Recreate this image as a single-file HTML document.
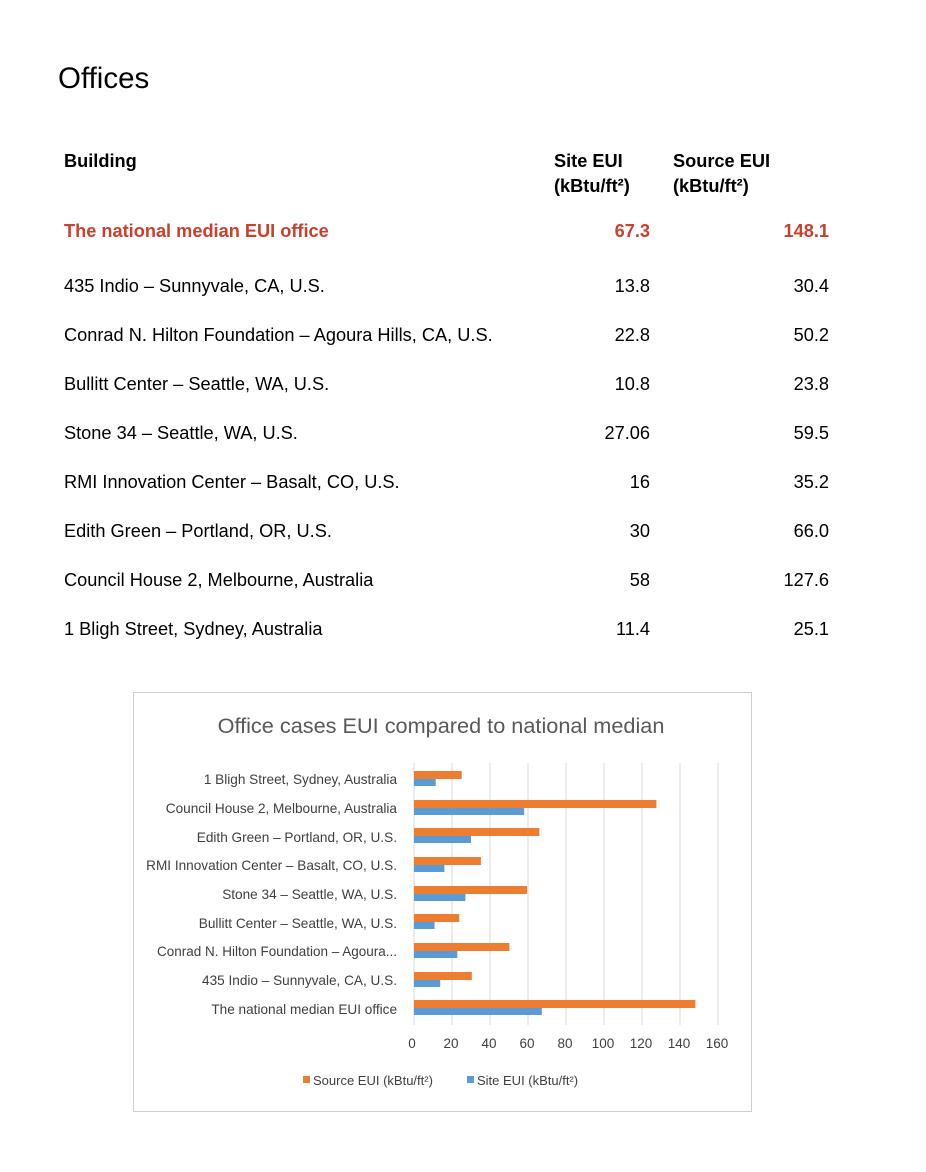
<!DOCTYPE html>
<html><head><meta charset="utf-8"><style>
body{margin:0;width:926px;height:1172px;background:#fff;font-family:"Liberation Sans",Arial,sans-serif;position:relative;overflow:hidden}
.t{position:absolute;white-space:nowrap;font-size:18.2px;color:#000;line-height:22px}
.r{text-align:right}
.b{font-weight:bold}
.red{color:#c9402c;font-weight:bold}
</style></head><body>
<div class="t" style="left:58px;top:61px;font-size:29.5px;line-height:36px">Offices</div>
<div class="t b" style="left:64px;top:150px">Building</div>
<div class="t b" style="left:554px;top:150px">Site EUI<br><span style="display:block;margin-top:3px">(kBtu/ft²)</span></div>
<div class="t b" style="left:673px;top:150px">Source EUI<br><span style="display:block;margin-top:3px">(kBtu/ft²)</span></div>

<div class="t red" style="left:64px;top:220px">The national median EUI office</div>
<div class="t red r" style="left:550px;width:100px;top:220px">67.3</div>
<div class="t red r" style="left:729px;width:100px;top:220px">148.1</div>

<div class="t" style="left:64px;top:275px">435 Indio – Sunnyvale, CA, U.S.</div>
<div class="t r" style="left:550px;width:100px;top:275px">13.8</div>
<div class="t r" style="left:729px;width:100px;top:275px">30.4</div>

<div class="t" style="left:64px;top:324px">Conrad N. Hilton Foundation – Agoura Hills, CA, U.S.</div>
<div class="t r" style="left:550px;width:100px;top:324px">22.8</div>
<div class="t r" style="left:729px;width:100px;top:324px">50.2</div>

<div class="t" style="left:64px;top:373px">Bullitt Center – Seattle, WA, U.S.</div>
<div class="t r" style="left:550px;width:100px;top:373px">10.8</div>
<div class="t r" style="left:729px;width:100px;top:373px">23.8</div>

<div class="t" style="left:64px;top:422px">Stone 34 – Seattle, WA, U.S.</div>
<div class="t r" style="left:550px;width:100px;top:422px">27.06</div>
<div class="t r" style="left:729px;width:100px;top:422px">59.5</div>

<div class="t" style="left:64px;top:471px">RMI Innovation Center – Basalt, CO, U.S.</div>
<div class="t r" style="left:550px;width:100px;top:471px">16</div>
<div class="t r" style="left:729px;width:100px;top:471px">35.2</div>

<div class="t" style="left:64px;top:520px">Edith Green – Portland, OR, U.S.</div>
<div class="t r" style="left:550px;width:100px;top:520px">30</div>
<div class="t r" style="left:729px;width:100px;top:520px">66.0</div>

<div class="t" style="left:64px;top:569px">Council House 2, Melbourne, Australia</div>
<div class="t r" style="left:550px;width:100px;top:569px">58</div>
<div class="t r" style="left:729px;width:100px;top:569px">127.6</div>

<div class="t" style="left:64px;top:618px">1 Bligh Street, Sydney, Australia</div>
<div class="t r" style="left:550px;width:100px;top:618px">11.4</div>
<div class="t r" style="left:729px;width:100px;top:618px">25.1</div>

<svg style="position:absolute;left:0;top:0" width="926" height="1172" font-family="Liberation Sans, sans-serif">
<rect x="133.5" y="692.5" width="618" height="419" fill="#fff" stroke="#cfcfcf"/>
<text x="441" y="733" text-anchor="middle" font-size="21.7" fill="#595959">Office cases EUI compared to national median</text>
<g stroke="#d9d9d9" stroke-width="1">
<line x1="414" y1="763" x2="414" y2="1025"/><line x1="452" y1="763" x2="452" y2="1025"/>
<line x1="490" y1="763" x2="490" y2="1025"/><line x1="528" y1="763" x2="528" y2="1025"/>
<line x1="566" y1="763" x2="566" y2="1025"/><line x1="604" y1="763" x2="604" y2="1025"/>
<line x1="642" y1="763" x2="642" y2="1025"/><line x1="680" y1="763" x2="680" y2="1025"/>
<line x1="718" y1="763" x2="718" y2="1025"/>
</g>
<g font-size="13.5" fill="#404040" text-anchor="middle">
<text x="412" y="1048">0</text><text x="451" y="1048">20</text><text x="489" y="1048">40</text><text x="527" y="1048">60</text><text x="565" y="1048">80</text><text x="603" y="1048">100</text><text x="641" y="1048">120</text><text x="679" y="1048">140</text><text x="717" y="1048">160</text>
</g>
<g font-size="13.6" fill="#404040" text-anchor="end">
<text x="397" y="784">1 Bligh Street, Sydney, Australia</text>
<text x="397" y="813">Council House 2, Melbourne, Australia</text>
<text x="397" y="842">Edith Green – Portland, OR, U.S.</text>
<text x="397" y="870">RMI Innovation Center – Basalt, CO, U.S.</text>
<text x="397" y="899">Stone 34 – Seattle, WA, U.S.</text>
<text x="397" y="928">Bullitt Center – Seattle, WA, U.S.</text>
<text x="397" y="956" textLength="240" lengthAdjust="spacingAndGlyphs">Conrad N. Hilton Foundation – Agoura...</text>
<text x="397" y="985">435 Indio – Sunnyvale, CA, U.S.</text>
<text x="397" y="1014">The national median EUI office</text>
</g>
<g fill="#ed7d31">
<rect x="414" y="771" width="47.7" height="8"/>
<rect x="414" y="800" width="242.4" height="8"/>
<rect x="414" y="828" width="125.4" height="8"/>
<rect x="414" y="857" width="66.9" height="8"/>
<rect x="414" y="886" width="113" height="8"/>
<rect x="414" y="914" width="45.2" height="8"/>
<rect x="414" y="943" width="95.4" height="8"/>
<rect x="414" y="972" width="57.8" height="8"/>
<rect x="414" y="1000" width="281.4" height="8"/>
</g>
<g fill="#5b9bd5">
<rect x="414" y="779" width="21.7" height="7"/>
<rect x="414" y="808" width="110.2" height="7"/>
<rect x="414" y="836" width="57" height="7"/>
<rect x="414" y="865" width="30.4" height="7"/>
<rect x="414" y="894" width="51.4" height="7"/>
<rect x="414" y="922" width="20.5" height="7"/>
<rect x="414" y="951" width="43.3" height="7"/>
<rect x="414" y="980" width="26.2" height="7"/>
<rect x="414" y="1008" width="127.9" height="7"/>
</g>
<rect x="303" y="1076" width="7" height="7" fill="#ed7d31"/>
<text x="313" y="1085" font-size="13" fill="#404040">Source EUI (kBtu/ft²)</text>
<rect x="467" y="1076" width="7" height="7" fill="#5b9bd5"/>
<text x="477" y="1085" font-size="13" fill="#404040">Site EUI (kBtu/ft²)</text>
</svg>
</body></html>
